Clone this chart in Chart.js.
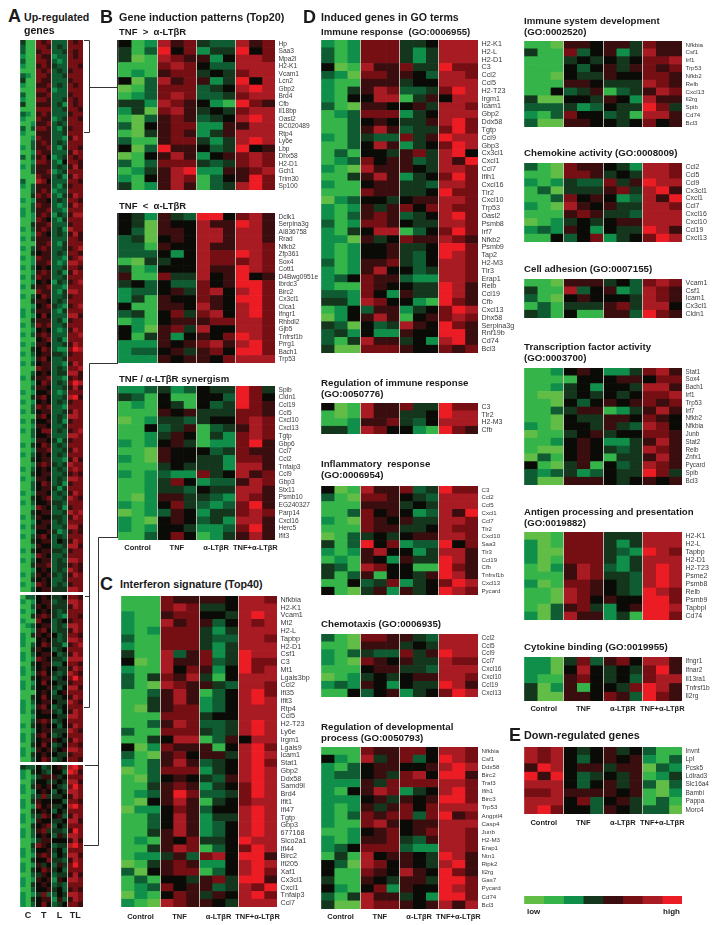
<!DOCTYPE html>
<html>
<head>
<meta charset="utf-8">
<title>Heat maps</title>
<script src="https://cdn.jsdelivr.net/npm/chart.js@4/dist/chart.umd.min.js"></script>
<style>
html,body{margin:0;padding:0;background:#fff}
#page{position:relative;width:719px;height:925px;overflow:hidden;font-family:"Liberation Sans",Arial,sans-serif;color:#1a1a1a}
canvas{position:absolute;filter:blur(.45px)}
svg{position:absolute;left:0;top:0}
.t{position:absolute;font-weight:bold;white-space:pre;line-height:12px;transform:translateY(-6px)}
</style>
</head>
<body>
<div id="page"></div>
<script>
var levelColors = ["#62bd47","#35b44a","#0f8f49","#0f5c33","#14361d","#0a0a06","#3a0d0f","#750f14","#a91b23","#ec1c24"]
var groupLabels = ["Control","TNF","α-LTβR","TNF+α-LTβR"]
var shortLabels = ["C","T","L","TL"]

var upAValues = ["411 767 333 767","311 776 343 777","311 677 334 767","211 766 233 767","311 776 323 777","211 676 433 776","111 767 343 677","321 776 334 777","411 766 333 677",
"211 667 343 767","111 776 233 777","311 667 333 677","211 776 334 767","411 666 342 767","111 777 334 776","321 676 333 677","211 766 234 776","112 667 343 777","313 776 324 677","211 666 334 777",
"112 766 332 687","113 676 343 777","213 667 324 776","112 766 333 687","313 675 234 767","112 776 325 776","213 666 343 686","113 667 234 777","111 766 342 687","311 875 333 776",
"213 666 324 677","113 676 233 777","114 767 324 687","212 665 343 776","113 766 323 687","213 667 332 777","212 676 243 688","112 765 324 777","114 667 333 677","213 676 342 877",
"112 765 343 686","213 666 333 776","111 667 324 777","213 676 334 678","114 566 343 776","212 766 332 678","112 667 323 887","213 565 334 776","112 676 342 687","213 766 334 777",
"112 565 243 678","214 667 332 777","111 766 324 887","213 576 334 677","114 665 343 777","112 567 432 678","213 666 324 777","212 575 333 886","114 666 342 677","213 767 334 777",
"112 565 323 687","213 676 333 778","111 567 342 777","212 665 334 687","114 576 322 798","213 566 443 677","112 675 334 777","213 566 332 687","111 766 343 778","113 565 344 886",
"214 667 332 676","112 576 343 798","113 665 334 686","212 556 323 777","114 675 334 896","212 565 343 677","113 767 332 777","213 566 334 687","111 675 343 887","213 556 342 677",
"112 665 334 777","213 577 343 678","113 556 333 887","112 665 424 677","214 576 343 777","112 667 334 687","213 565 343 777","114 566 332 686","112 676 434 877","213 565 343 787",
"114 566 334 676","212 665 343 887","113 576 342 677","113 566 424 777","212 665 343 687","114 567 334 876","213 556 443 777","112 765 342 677","114 566 334 878","213 655 443 687",
"112 566 343 777","213 665 334 886","112 556 423 676","213 675 343 777","114 566 354 687","112 655 334 886","214 566 443 677","112 765 334 777","213 566 343 887","114 667 344 676",
"112 565 343 876","213 656 434 687","114 565 334 777","212 765 343 677","113 566 444 887"]
var upBValues = ["133 565 445 776","212 566 344 887","113 656 444 687","212 565 434 777","114 676 432 776","211 755 345 677","123 566 343 887","112 675 344 687","214 656 534 776",
"211 565 434 887","213 576 442 678","114 655 345 777","213 566 534 687","212 765 443 888","114 566 335 776","213 565 544 687","212 675 434 876","114 566 345 797","212 575 544 677","213 556 435 886",
"111 565 356 777","114 575 445 687","213 566 544 876","212 675 345 777","213 566 435 687","112 555 544 887","113 676 345 777","214 565 535 687","112 566 444 876","213 675 345 777",
"213 566 654 687","114 575 345 776","212 656 456 887","214 565 544 677","113 576 345 776"]
var upCValues = ["433 534 564 897","214 543 553 986","212 466 645 777","113 554 454 886","214 656 543 797","212 565 354 887","113 474 445 687","214 655 553 776","212 756 445 897","114 565 354 777",
"213 476 563 687","212 655 445 886","114 567 354 777","213 674 443 697","213 565 364 887","112 466 555 686","114 765 344 897","213 556 453 777","212 676 354 886","114 557 443 687",
"212 645 364 797","214 576 453 777","113 465 344 686","212 656 265 887","214 565 343 777","113 556 453 676","212 473 354 887","214 566 263 687","213 575 345 776"]

var tnfOverGenes = ["Hp","Saa3","Mpa2l","H2-K1","Vcam1","Lcn2","Gbp2","Brd4","Cfb","Il18bp","Oasl2","BC020489","Rtp4","Ly6e","Lbp","Dhx58","H2-D1","Gch1","Trim30","Sp100"]
var tnfOverValues = ["512 867 433 867","413 957 244 957","401 876 625 887","111 787 533 888","121 677 454 788","503 867 624 958","013 777 345 898","123 787 334 788","442 876 521 976","240 786 454 788",
"103 676 345 898","305 677 226 688","104 676 246 888","311 677 424 898","503 966 534 956","015 686 256 787","313 777 434 787","124 689 226 678","215 687 135 697","412 686 134 897"]

var ltbrOverGenes = ["Dclk1","Serpina3g","AI836758","Rrad","Nfkb2","Zfp361","Sox4","Cott1","D4Bwg0951e","Ibrdc3","Birc2","Cx3cl1","Clca1","Ifngr1","Rhbdl2","Gjb5","Tnfrsf1b","Prrg1","Bach1","Trp53"]
var ltbrOverValues = ["542 643 995 786","540 655 866 986","530 665 886 886","340 565 886 886","331 655 866 887","333 525 877 987","104 455 877 787","412 555 866 987","611 744 856 956","453 533 756 997",
"233 564 785 897","241 655 765 997","511 665 865 897","341 574 785 897","121 566 677 887","520 674 855 887","514 625 657 987","222 656 786 897","233 564 675 997","222 656 657 888"]

var synergyGenes = ["Spib","Cldn1","Ccl19","Ccl5","Cxcl10","Cxcl13","Tgtp","Gbp6","Ccl7","Ccl2","Tnfaip3","Ccl9","Gbp3","Stx11","Psmb10","EG240327","Parp14","Cxcl16","Herc5","Ifit3"]
var synergyValues = ["223 423 544 974","431 511 553 975","121 541 534 976","111 656 444 776","012 443 455 787","115 346 134 687","112 465 142 787","212 564 122 796","110 655 534 766","210 655 442 776",
"111 454 442 886","212 322 745 867","112 475 233 687","112 443 544 886","102 664 432 876","212 574 323 796","012 365 244 787","210 565 342 886","212 554 223 796","113 575 124 686"]

var interferonGenes = ["Nfkbia","H2-K1","Vcam1","Mt2","H2-L","Tapbp","H2-D1","Csf1","C3","Mt1","Lgals3bp","Ccl2","Ifi35","Ifit3","Rtp4","Ccl5","H2-T23","Ly6e","Irgm1","Lgals9",
"Icam1","Stat1","Gbp2","Ddx58","Samd9l","Brd4","Ifit1","Ifi47","Tgtp","Gbp3","677168","Slco2a1","Ifi44","Birc2","Ifi205","Xaf1","Cx3cl1","Cxcl1","Tnfaip3","Ccl7"]
var interferonValues = ["111 766 665 887","111 787 445 888","211 677 554 898","211 867 635 878","212 777 424 888","311 777 433 887","211 777 424 888","411 836 724 988","501 866 734 977","211 857 625 978",
"314 768 415 888","310 876 643 887","113 686 135 897","114 686 235 898","104 677 235 888","111 777 455 888","113 687 334 898","311 777 434 898","114 588 136 588","502 766 615 897",
"310 675 664 898","213 686 345 897","013 777 245 898","103 565 436 898","114 676 245 798","123 697 334 798","105 686 145 788","022 576 355 898","113 586 244 898","113 586 235 898",
"114 686 235 898","121 657 445 988","114 687 135 798","122 463 785 996","014 676 225 898","305 677 135 897","131 554 674 996","123 756 634 879","021 576 465 897","210 876 654 888"]

var immuneGenes = ["H2-K1","H2-L","H2-D1","C3","Ccl2","Ccl5","H2-T23","Irgm1","Icam1","Gbp2","Ddx58","Tgtp","Ccl9","Gbp3","Cx3cl1","Cxcl1","Ccl7","Ifih1","Cxcl16","Tlr2",
"Cxcl10","Trp53","Oasl2","Psmb8","Irf7","Nfkb2","Psmb9","Tap2","H2-M3","Tlr3","Erap1","Relb","Ccl19","Cfb","Cxcl13","Dhx58","Serpina3g","Rnf19b","Cd74","Bcl3"]
var immuneValues = ["212 777 445 888","312 777 424 888","312 777 424 888","501 866 744 977","320 776 653 887","211 666 455 888","214 687 334 798","215 588 146 588","310 665 564 887","123 777 245 888",
"113 565 446 897","113 686 344 797","213 433 746 988","113 586 245 798","131 554 674 895","123 756 634 869","210 866 654 887","114 686 245 797","211 566 443 887","111 766 445 977",
"023 554 566 887","212 646 757 877","213 676 345 897","312 776 544 887","214 588 135 797","220 645 766 876","212 556 445 997","212 556 435 987","312 667 435 887","212 685 534 887",
"235 766 322 887","211 765 544 986","332 752 644 986","442 875 521 976","125 366 245 798","025 686 156 787","430 534 865 976","342 522 655 996","314 866 452 896","400 777 655 767"]

var immuneRegGenes = ["C3","Tlr2","H2-M3","Cfb"]
var immuneRegValues = ["501 866 744 977","101 866 445 988","112 667 435 888","442 875 521 976"]

var inflammatoryGenes = ["C3","Ccl2","Ccl5","Cxcl1","Ccl7","Tlr2","Cxcl10","Saa3","Tlr3","Ccl19","Cfb","Tnfrsf1b","Cxcl13","Pycard"]
var inflammatoryValues = ["501 866 734 977","310 776 543 888","111 666 454 888","113 756 523 869","210 765 644 887","111 766 445 877","013 454 566 887","413 957 233 957","212 685 524 886","121 652 644 986",
"431 875 511 976","413 615 546 986","115 347 245 798","510 462 645 987"]

var chemotaxisGenes = ["Ccl2","Ccl5","Ccl9","Ccl7","Cxcl16","Cxcl10","Ccl19","Cxcl13"]
var chemotaxisValues = ["310 776 643 888","110 666 454 888","213 433 746 988","210 765 644 877","111 566 443 888","012 454 566 887","232 652 544 986","115 356 245 798"]

var developmentGenes = ["Nfkbia","Csf1","Ddx58","Birc2","Traf3","Ifih1","Birc3","Trp53","Angptl4","Casp4","Junb","H2-M3","Erap1","Ntn1","Ripk2","Il2rg","Gas7","Pycard","Cd74","Bcl3"]
var developmentValues = ["111 766 775 887","521 846 735 987","213 566 556 898","233 564 785 996","222 647 777 887","215 687 245 897","222 564 656 997","212 646 757 888","213 767 737 967","211 786 566 888",
"112 567 567 887","212 667 436 887","235 777 322 887","141 856 654 986","530 875 654 896","511 765 865 976","411 654 664 997","521 572 655 987","314 866 452 997","400 877 656 868"]

var immuneDevGenes = ["Nfkbia","Csf1","Irf1","Trp53","Nfkb2","Relb","Cxcl13","Il2rg","Spib","Cd74","Bcl3"]
var immuneDevValues = ["110 665 664 766","411 735 624 866","111 454 545 778","111 535 646 767","110 544 655 776","111 665 444 876","115 346 134 687","400 554 652 866","333 423 544 974","213 755 341 886","300 665 545 756"]

var chemokineGenes = ["Ccl2","Ccl5","Ccl9","Cx3cl1","Cxcl1","Ccl7","Cxcl16","Cxcl10","Ccl19","Cxcl13"]
var chemokineValues = ["310 766 542 887","110 776 454 887","212 433 746 988","130 444 674 896","113 756 523 869","210 865 644 887","111 676 443 888","012 454 566 888","232 652 544 986","115 357 245 798"]

var adhesionGenes = ["Vcam1","Csf1","Icam1","Cx3cl1","Cldn1"]
var adhesionValues = ["110 666 453 787","411 835 623 876","310 565 554 876","131 444 674 885","431 511 663 976"]

var transcriptionGenes = ["Stat1","Sox4","Bach1","Irf1","Trp53","Irf7","Nfkb2","Nfkbia","Junb","Stat2","Relb","Znfx1","Pycard","Spib","Bcl3"]
var transcriptionValues = ["112 565 224 786","111 155 566 577","112 452 554 886","100 454 545 778","110 535 656 767","113 466 124 686","110 544 665 765","210 554 643 875","011 456 455 776","112 565 224 686",
"100 565 434 876","031 565 144 686","510 461 534 876","323 423 544 974","300 666 545 656"]

var antigenGenes = ["H2-K1","H2-L","Tapbp","H2-D1","H2-T23","Psme2","Psmb8","Relb","Psmb9","Tapbpl","Cd74"]
var antigenValues = ["001 777 444 888","201 777 424 888","200 777 432 987","201 777 424 888","102 687 324 898","111 687 443 898","201 776 543 898","110 876 543 987","110 875 655 997","103 674 256 998","203 866 241 997"]

var cytokineGenes = ["Ifngr1","Ifnar2","Il13ra1","Tnfrsf1b","Il2rg"]
var cytokineValues = ["220 473 675 886","220 585 454 796","211 675 453 788","402 615 547 986","400 665 763 976"]

var downGenes = ["Invnt","Lpl","Pcsk5","Ldlrad3","Slc16a4","Bambi","Pappa","Morc4"]
var downValues = ["878 545 645 311","878 535 656 213","698 566 466 032","969 534 546 124","888 535 646 303","778 666 656 102","888 573 564 131","897 553 654 330"]

var scaleValues = ["01246789"]

Chart.defaults.font.family = '"Liberation Sans", Arial, sans-serif'
Chart.defaults.animation = false

var page = document.getElementById("page")

function heatmap(genes, values, x, y, w, h, fontSize, xLabels, xPad) {
    var rows = values.map(function (r) { return r.replace(/ /g, "").split("").map(Number) })
    var nCols = rows[0].length
    var grouped = nCols == 12
    var labelSpace = genes ? 60 : 0
    var xSpace = xLabels ? 18 : 0
    var canvas = document.createElement("canvas")
    canvas.width = w + labelSpace
    canvas.height = h + 8 + xSpace
    canvas.style.left = x + "px"
    canvas.style.top = (y - 4) + "px"
    page.appendChild(canvas)

    var datasets = []
    for (var c = 0; c < nCols; c++) {
        datasets.push({
            data: rows.map(function () { return 1 }),
            backgroundColor: rows.map(function (r) { return levelColors[r[c]] }),
            borderWidth: 0,
            barPercentage: 1,
            categoryPercentage: 1
        })
    }
    new Chart(canvas, {
        type: "bar",
        data: { labels: genes || rows.map(function (r, i) { return i }), datasets: datasets },
        options: {
            indexAxis: "y",
            responsive: false,
            layout: { padding: { top: 4, bottom: xLabels ? 0 : 4, left: 0, right: 0 } },
            plugins: { legend: { display: false }, tooltip: { enabled: false } },
            scales: {
                x: {
                    type: "linear", stacked: true, min: 0, max: nCols,
                    border: { display: false },
                    grid: {
                        z: 1, drawTicks: false, lineWidth: 1,
                        color: function (ctx) {
                            var v = ctx.tick.value
                            return grouped && v % 3 == 0 && v > 0 && v < nCols ? "rgba(205,200,190,.9)" : "transparent"
                        }
                    },
                    ticks: {
                        stepSize: 1.5, autoSkip: false, maxRotation: 0, padding: xPad || 3, color: "#222",
                        font: { size: xLabels == shortLabels ? 9 : 7.5, weight: "bold" },
                        callback: function (v) {
                            return xLabels && v % 3 == 1.5 ? xLabels[(v - 1.5) / 3] : ""
                        }
                    },
                    afterFit: function (s) { s.height = xSpace; s.paddingLeft = 0; s.paddingRight = 0 }
                },
                y: {
                    stacked: true, display: !!genes, position: "right",
                    border: { display: false },
                    grid: { display: false, drawTicks: false },
                    ticks: { autoSkip: false, padding: 3.5, color: "#3a3a3a", font: { size: fontSize } },
                    afterFit: function (s) { s.width = labelSpace; s.paddingTop = 0; s.paddingBottom = 0 }
                }
            }
        }
    })
}

// panel A, split by the white gaps
heatmap(null, upAValues, 20, 40, 63, 552)
heatmap(null, upBValues, 20, 595, 63, 167)
heatmap(null, upCValues, 20, 765, 63, 138, 7, shortLabels, 3)
// panel B and C
heatmap(tnfOverGenes, tnfOverValues, 118, 40, 157, 150, 6.6)
heatmap(ltbrOverGenes, ltbrOverValues, 118, 213, 157, 150, 6.6)
heatmap(synergyGenes, synergyValues, 118, 386, 157, 150, 6.6, groupLabels, 3)
heatmap(interferonGenes, interferonValues, 121, 596, 156, 307, 7.2, groupLabels, 5)
// panel D, first column
heatmap(immuneGenes, immuneValues, 321, 40, 157, 313, 7.2)
heatmap(immuneRegGenes, immuneRegValues, 321, 403, 157, 31, 7)
heatmap(inflammatoryGenes, inflammatoryValues, 321, 486, 157, 109, 6.1)
heatmap(chemotaxisGenes, chemotaxisValues, 321, 634, 157, 63, 6.5)
heatmap(developmentGenes, developmentValues, 321, 747, 157, 158, 6.2, groupLabels, 3)
// panel D, second column
heatmap(immuneDevGenes, immuneDevValues, 524, 41, 158, 86, 6.2)
heatmap(chemokineGenes, chemokineValues, 524, 163, 158, 79, 7)
heatmap(adhesionGenes, adhesionValues, 524, 279, 158, 39, 7)
heatmap(transcriptionGenes, transcriptionValues, 524, 368, 158, 117, 6.3)
heatmap(antigenGenes, antigenValues, 524, 532, 158, 88, 7)
heatmap(cytokineGenes, cytokineValues, 524, 657, 158, 40, 6.6, groupLabels, 3)
// panel E and colour scale
heatmap(downGenes, downValues, 524, 747, 158, 63, 6.5, groupLabels, 4)
heatmap(null, scaleValues, 524, 896, 158, 8)

function text(s, x, y, size, opts) {
    var d = document.createElement("div")
    d.className = "t"
    d.textContent = s
    d.style.left = x + "px"
    d.style.top = y + "px"
    d.style.fontSize = size + "px"
    if (opts && opts.right) { d.style.left = "auto"; d.style.right = (719 - x) + "px" }
    page.appendChild(d)
}

text("A", 8, 16, 18)
text("Up-regulated", 24, 17, 10.6)
text("genes", 24, 30, 10.6)
text("B", 100, 17, 18)
text("Gene induction patterns (Top20)", 119, 17, 10.8)
text("TNF  >  α-LTβR", 119, 32, 9.5)
text("TNF  <  α-LTβR", 119, 206, 9.5)
text("TNF / α-LTβR synergism", 119, 379, 9.6)
text("C", 100, 584, 18)
text("Interferon signature (Top40)", 120, 584, 10.75)
text("D", 303, 17, 18)
text("Induced genes in GO terms", 321, 17, 10.6)
text("Immune response  (GO:0006955)", 321, 32, 9.6)
text("Regulation of immune response", 321, 383, 9.7)
text("(GO:0050776)", 321, 394, 9.7)
text("Inflammatory  response", 321, 464, 9.7)
text("(GO:0006954)", 321, 475, 9.7)
text("Chemotaxis (GO:0006935)", 321, 624, 9.7)
text("Regulation of developmental", 321, 727, 9.7)
text("process (GO:0050793)", 321, 738, 9.7)
text("Immune system development", 524, 21, 9.7)
text("(GO:0002520)", 524, 32, 9.7)
text("Chemokine activity (GO:0008009)", 524, 153, 9.7)
text("Cell adhesion (GO:0007155)", 524, 269, 9.7)
text("Transcription factor activity", 524, 347, 9.7)
text("(GO:0003700)", 524, 358, 9.7)
text("Antigen processing and presentation", 524, 512, 9.6)
text("(GO:0019882)", 524, 523, 9.6)
text("Cytokine binding (GO:0019955)", 524, 647, 9.7)
text("E", 509, 735, 18)
text("Down-regulated genes", 524, 735, 10.8)
text("low", 527, 912, 8)
text("high", 680, 912, 8, { right: true })

// brackets joining panel A to the close-ups
var brackets = [
    "M84 40.5H89.5V132.5H84M89.5 87.5H118",
    "M118 363.5H89.5V707.5H84M89.5 596.5H85",
    "M118 537.5H98.5V845.5H84M98.5 765.5H85",
    "M117.5 40V190M117.5 213V363M117.5 386V537"
]
var svg = '<svg width="719" height="925" fill="none" stroke="#333" stroke-width="1">'
brackets.forEach(function (d) { svg += '<path d="' + d + '"/>' })
page.insertAdjacentHTML("beforeend", svg + "</svg>")
</script>
</body>
</html>
